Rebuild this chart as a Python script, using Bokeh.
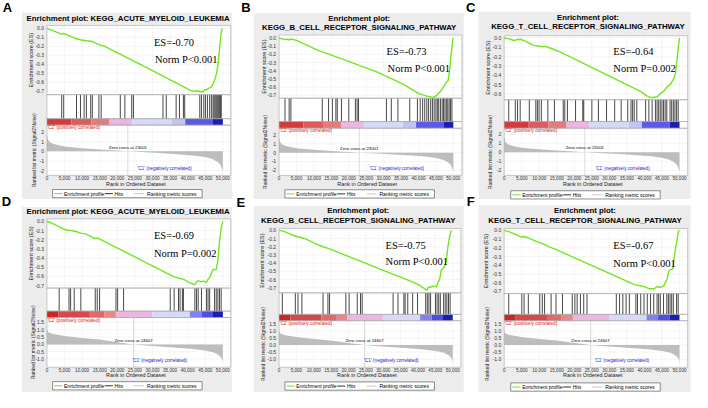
from bokeh.plotting import figure
from bokeh.models import Range1d
from bokeh.core.properties import value
from bokeh.embed import file_html
from bokeh.resources import INLINE

# ------------------------------------------------------------------ data
panel_letters = ["A", "B", "C", "D", "E", "F"]
titles = [
    ["Enrichment plot: KEGG_ACUTE_MYELOID_LEUKEMIA"],
    ["Enrichment plot:", "KEGG_B_CELL_RECEPTOR_SIGNALING_PATHWAY"],
    ["Enrichment plot:", "KEGG_T_CELL_RECEPTOR_SIGNALING_PATHWAY"],
    ["Enrichment plot: KEGG_ACUTE_MYELOID_LEUKEMIA"],
    ["Enrichment plot:", "KEGG_B_CELL_RECEPTOR_SIGNALING_PATHWAY"],
    ["Enrichment plot:", "KEGG_T_CELL_RECEPTOR_SIGNALING_PATHWAY"],
]
es_texts = ["ES=-0.70", "ES=-0.73", "ES=-0.64", "ES=-0.69", "ES=-0.75", "ES=-0.67"]
p_texts = ["Norm P<0.001", "Norm P<0.001", "Norm P=0.002",
           "Norm P=0.002", "Norm P<0.001", "Norm P<0.001"]
zero_cross = [23001, 23001, 23001, 24607, 24607, 24607]

# running enrichment score (rank, ES)
A_es_rank = [0, 2000, 4200, 4700, 5100, 6500, 7900, 9800, 11200, 12600, 14500, 15400, 16400,
             28500, 40650, 41590, 42520, 43460, 44390, 44860, 45330, 45800, 46260, 46730,
             47200, 47670, 48130, 48600, 49070, 49540, 49810]
A_es = [0.0, -0.03, -0.064, -0.057, -0.062, -0.085, -0.11, -0.13, -0.138, -0.143, -0.175, -0.19,
        -0.2, -0.44, -0.689, -0.70, -0.696, -0.707, -0.707, -0.682, -0.689, -0.671, -0.664,
        -0.654, -0.625, -0.575, -0.518, -0.404, -0.225, -0.046, 0.0]
B_es_rank = [0, 1700, 2300, 2900, 3400, 5000, 11050, 19010, 28370, 35870, 40080, 42420, 44290,
             45230, 46160, 47110, 48030, 48510, 48960, 49440, 49920]
B_es = [0.0, -0.02, -0.015, -0.025, -0.012, -0.03, -0.148, -0.27, -0.42, -0.57, -0.68, -0.71,
        -0.725, -0.70, -0.66, -0.60, -0.54, -0.52, -0.38, -0.17, 0.0]
C_es_rank = [0, 1390, 2790, 3720, 4650, 5580, 8360, 10220, 12080, 13480, 15800, 17660, 39030,
             40430, 41820, 42750, 43680, 44610, 45540, 46470, 47400, 48330, 48790, 49260,
             49720, 50000]
C_es = [0.0, -0.01, -0.027, -0.017, -0.014, -0.027, -0.079, -0.089, -0.093, -0.113, -0.147,
        -0.182, -0.576, -0.615, -0.64, -0.635, -0.63, -0.593, -0.569, -0.525, -0.497, -0.439,
        -0.387, -0.25, -0.079, 0.0]
D_es_rank = [0, 1400, 3270, 3740, 5140, 6070, 7010, 8410, 9810, 10750, 12150, 13550, 14490,
             15420, 35980, 37850, 38790, 40650, 42060, 42520, 42990, 43930, 44390, 45330,
             45800, 46260, 47200, 48130, 48600, 49070, 49540, 50000]
D_es = [0.0, -0.018, -0.053, -0.063, -0.088, -0.098, -0.098, -0.112, -0.13, -0.133, -0.158,
        -0.186, -0.182, -0.2, -0.602, -0.623, -0.63, -0.672, -0.69, -0.658, -0.648, -0.658,
        -0.651, -0.665, -0.63, -0.613, -0.525, -0.525, -0.42, -0.21, -0.07, 0.0]
E_es_rank = [0, 1220, 2160, 4970, 6380, 7790, 10600, 12480, 14350, 38740, 40620, 42500, 42960,
             43900, 44370, 45310, 45770, 46240, 46710, 47180, 47650, 48120, 48590, 49060, 49530]
E_es = [0.0, -0.008, -0.027, -0.074, -0.086, -0.106, -0.164, -0.196, -0.223, -0.634, -0.673,
        -0.73, -0.696, -0.688, -0.68, -0.688, -0.634, -0.594, -0.477, -0.469, -0.438, -0.379,
        -0.203, -0.086, 0.0]
F_es_rank = [0, 1860, 3720, 4650, 5580, 6510, 9290, 11150, 13010, 14870, 37180, 39500, 41360,
             42750, 43680, 44610, 45540, 46470, 46930, 47400, 48140, 48330, 48790, 49260,
             49720, 50000]
F_es = [0.0, -0.022, -0.055, -0.074, -0.07, -0.081, -0.129, -0.155, -0.192, -0.221, -0.623,
        -0.641, -0.67, -0.67, -0.645, -0.656, -0.634, -0.56, -0.468, -0.45, -0.442, -0.357,
        -0.228, -0.118, -0.007, 0.0]

# hit positions (rank of gene set members)
A_hits = [4200, 4770, 8410, 9530, 10570, 11210, 12440, 12900, 14770, 15420, 20850, 22150,
          24100, 24580, 32990, 33920, 36720, 37670, 38790, 39160, 43450, 43920, 44580, 45050,
          45610, 46250, 46730, 47200, 47500, 47800, 48100, 48400, 48700, 49000, 49300, 49550]
B_hits = [1700, 2900, 3400, 12400, 14200, 15300, 16300, 16700, 17900, 20000, 21900, 22400,
          22800, 30800, 32200, 34100, 37500, 39700, 40500, 41200, 41800, 42400, 42900, 43500,
          44000, 44500, 45000, 45400, 45800, 46300, 46800, 47200, 47600, 48000, 48400, 48800,
          49200, 49600]
C_hits = [1310, 3180, 3820, 4570, 7170, 9030, 9480, 9950, 10600, 12460, 14330, 16840, 17290,
          18040, 20360, 22420, 22700, 25010, 26880, 29190, 31510, 33370, 35240, 36170, 36630,
          37090, 37830, 40340, 41270, 42200, 43130, 43600, 44060, 44520, 44990, 45450, 45910,
          46380, 47310, 47770, 48240, 48700, 49170, 49630]
D_hits = [3480, 6280, 6730, 7760, 9640, 13740, 14300, 14970, 19630, 20100, 21780, 35040,
          36160, 37400, 37840, 38500, 38790, 42050, 42520, 42990, 43920, 45320, 45790, 46250,
          47650, 48120, 48590, 49050, 49520]
E_hits = [940, 4690, 5440, 6570, 12660, 14070, 14540, 19230, 20170, 22510, 23450, 23920, 32830,
          34240, 35930, 36300, 37050, 38460, 39870, 42210, 42680, 43150, 43620, 45020, 45490,
          45960, 46430, 47370, 47840, 48310, 48780, 49250]
F_hits = [1310, 5030, 5680, 6890, 10150, 10880, 11530, 13390, 14780, 16640, 19430, 20170,
          20820, 21750, 22690, 23620, 31980, 32910, 33840, 34770, 35700, 37560, 38020, 38950,
          39880, 40810, 41740, 42660, 43600, 44060, 44530, 45450, 46380, 46840, 47310, 47770,
          48240, 49170, 49630]

# phenotype colour bar blocks
top_bar_edges = [0, 7000, 12600, 17800, 24300, 35500, 39300, 47200, 50000]
top_bar_colors = ["#d43a3a", "#dc5c5c", "#e27c7c", "#ebb6df", "#d8d8f8", "#c4c4f4",
                  "#5a5ae6", "#1c1cb0"]
bottom_bar_edges = [0, 3300, 12200, 16400, 19600, 29900, 40600, 43900, 47200, 50000]
bottom_bar_colors = ["#c82828", "#d84848", "#df6a6a", "#e68888", "#ebb6df", "#d8d8f8",
                     "#8080ee", "#4e4ee4", "#1c1cb0"]

# ranked list metric (Signal2Noise)
top_metric_rank = [0, 300, 1000, 2500, 5000, 10000, 15000, 20000, 23001, 28000, 33000, 38000,
                   42000, 45000, 47000, 48500, 49300, 49800, 50000]
top_metric = [1.75, 1.2, 0.9, 0.7, 0.5, 0.33, 0.2, 0.08, 0.0, -0.1, -0.2, -0.32, -0.45, -0.6,
              -0.8, -1.1, -1.4, -1.9, -2.1]
bottom_metric_rank = [0, 300, 1500, 5000, 10000, 15000, 20000, 22500, 24607, 27000, 30000,
                      36000, 41000, 45000, 47500, 49000, 49700, 50000]
bottom_metric = [1.05, 0.85, 0.72, 0.58, 0.44, 0.33, 0.15, 0.07, 0.0, -0.05, -0.1, -0.2, -0.3,
                 -0.42, -0.55, -0.75, -0.95, -1.2]

# ticks
rank_ticks = [0, 5000, 10000, 15000, 20000, 25000, 30000, 35000, 40000, 45000, 50000]
rank_tick_labels = ["0", "5,000", "10,000", "15,000", "20,000", "25,000", "30,000", "35,000",
                    "40,000", "45,000", "50,000"]
es_ticks_7 = [0.0, -0.1, -0.2, -0.3, -0.4, -0.5, -0.6, -0.7]
es_tick_labels_7 = ["0.0", "-0.1", "-0.2", "-0.3", "-0.4", "-0.5", "-0.6", "-0.7"]
es_ticks_6 = [0.0, -0.1, -0.2, -0.3, -0.4, -0.5, -0.6]
es_tick_labels_6 = ["0.0", "-0.1", "-0.2", "-0.3", "-0.4", "-0.5", "-0.6"]
metric_ticks_top = [2, 1, 0, -1, -2]
metric_tick_labels_top = ["2", "1", "0", "-1", "-2"]
metric_ticks_bottom = [1.5, 1.0, 0.5, 0.0, -0.5, -1.0]
metric_tick_labels_bottom = ["1.5", "1.0", "0.5", "0.0", "-0.5", "-1.0"]

es_rank_all = [A_es_rank, B_es_rank, C_es_rank, D_es_rank, E_es_rank, F_es_rank]
es_all = [A_es, B_es, C_es, D_es, E_es, F_es]
hits_all = [A_hits, B_hits, C_hits, D_hits, E_hits, F_hits]

# ------------------------------------------------------------------ layout (reference pixels)
W_REF, H_REF = 708, 408
LAYOUT = {
    "A": dict(box=(22, 12.5, 237, 206.5), letter=(7, 7.5), x0=47.5, x50=227.5, right=235.5,
              es_top=26, es_bot=98, es_y0=29, es_yref=94.3, es_vref=-0.7,
              hit_bot=123, cb_bot=129.5, met_top=130, met_bot=182,
              met_hi=(2, 137), met_lo=(-2, 177),
              title_x=130.5, title_y=[18.3], es_txt=(157, 43.5), p_txt=(158, 61.5),
              legend=(53.3, 196.7), ytitle_x=(31.7, 34.3), c1_rank=25700),
    "B": dict(box=(259, 13, 474, 206.5), letter=(251, 7.5), x0=285, x50=463.3, right=472,
              es_top=36, es_bot=101.7, es_y0=39, es_yref=98.7, es_vref=-0.7,
              hit_bot=126, cb_bot=132.7, met_top=133.3, met_bot=182,
              met_hi=(2, 140), met_lo=(-2, 176.7),
              title_x=367, title_y=[18.3, 28.3], es_txt=(395, 53), p_txt=(396, 70.5),
              legend=(291, 197), ytitle_x=(269.3, 271), c1_rank=26000),
    "C": dict(box=(489, 11.7, 706, 206.5), letter=(481, 7.5), x0=515.3, x50=694.7, right=703,
              es_top=36.7, es_bot=103.3, es_y0=39, es_yref=97.3, es_vref=-0.6,
              hit_bot=126, cb_bot=132.7, met_top=133.3, met_bot=182,
              met_hi=(2, 139.3), met_lo=(-2, 176.7),
              title_x=601, title_y=[17.3, 26.7], es_txt=(627, 53.5), p_txt=(627, 71),
              legend=(522, 198), ytitle_x=(498.7, 501.3), c1_rank=26000),
    "D": dict(box=(22, 215, 237, 407.5), letter=(6, 209), x0=47.5, x50=227.5, right=235.5,
              es_top=227.3, es_bot=299.3, es_y0=230, es_yref=296.7, es_vref=-0.7,
              hit_bot=323.3, cb_bot=330, met_top=330, met_bot=381.7,
              met_hi=(1.5, 335), met_lo=(-1.0, 373.3),
              title_x=130.5, title_y=[219.3], es_txt=(157, 245), p_txt=(157, 263),
              legend=(53.3, 396.7), ytitle_x=(31.7, 33.3), c1_rank=24300),
    "E": dict(box=(259, 214, 474, 407.5), letter=(246, 210), x0=285, x50=462.7, right=471,
              es_top=237.3, es_bot=304.3, es_y0=239.3, es_yref=299, es_vref=-0.7,
              hit_bot=326.7, cb_bot=333.3, met_top=333.3, met_bot=381.7,
              met_hi=(1.5, 336.7), met_lo=(-1.0, 373.3),
              title_x=366, title_y=[218.3, 229.3], es_txt=(394, 254.5), p_txt=(394, 272),
              legend=(291, 397), ytitle_x=(267.7, 268.3), c1_rank=24500),
    "F": dict(box=(489, 213, 706, 407.5), letter=(481, 209), x0=515.3, x50=694.7, right=703,
              es_top=237.3, es_bot=305, es_y0=239.3, es_yref=302.7, es_vref=-0.7,
              hit_bot=326.7, cb_bot=333.3, met_top=333.3, met_bot=381.7,
              met_hi=(1.5, 336.7), met_lo=(-1.0, 373.3),
              title_x=598, title_y=[219, 229.3], es_txt=(627, 255.5), p_txt=(627, 274),
              legend=(522, 398), ytitle_x=(497, 498), c1_rank=25800),
}

SANS = value("Liberation Sans")
SERIF = value("Liberation Serif")
GREEN = "#72e61e"
BOXGRAY = "#ececec"
EDGE = "#a8a8a8"
GRIDC = "#efefef"

p = figure(width=692, height=392, x_range=Range1d(0, W_REF), y_range=Range1d(H_REF, 0),
           x_axis_type=None, y_axis_type=None, toolbar_location=None,
           output_backend="svg", min_border=0, outline_line_color=None,
           background_fill_color="white", border_fill_color="white")

xr, yr = {}, {}


def txt(x, y, s, size, align="center", baseline="middle", color="#000000", bold=False,
        font=SANS, angle=0.0, **kw):
    p.text(x=x, y=y, text=s, text_font=font, text_font_size=size, text_align=align,
           text_baseline=baseline, text_color=color,
           text_font_style="bold" if bold else "normal", angle=angle, **kw)


for i, key in enumerate(panel_letters):
    g = LAYOUT[key]
    top_row = i < 3
    x0, x50, right = g["x0"], g["x50"], g["right"]
    R = 50000.0 / (x50 - x0)
    rn, en, mn = "rank" + key, "es" + key, "met" + key
    xr[rn] = Range1d(-x0 * R, (W_REF - x0) * R)
    K = -g["es_vref"] / (g["es_yref"] - g["es_y0"])
    yr[en] = Range1d((g["es_y0"] - H_REF) * K, g["es_y0"] * K)
    (mh, ph), (ml, pl) = g["met_hi"], g["met_lo"]
    Km = (mh - ml) / (pl - ph)
    yr[mn] = Range1d(mh + (ph - H_REF) * Km, mh + ph * Km)

    es_top, es_bot, hit_bot = g["es_top"], g["es_bot"], g["hit_bot"]
    cb_bot, met_top, met_bot = g["cb_bot"], g["met_top"], g["met_bot"]

    # gray panel background and letter
    bx0, by0, bx1, by1 = g["box"]
    p.quad(left=[bx0], right=[bx1], top=[by0], bottom=[by1], fill_color=BOXGRAY, line_color=None)
    txt([g["letter"][0]], [g["letter"][1]], [key], "13px", bold=True)
    for line, ty in zip(titles[i], g["title_y"]):
        txt([g["title_x"]], [ty], [line], "7.8px", bold=True)

    # white plotting areas
    p.quad(left=[x0], right=[right], top=[es_top], bottom=[met_bot], fill_color="white",
           line_color=None)

    es_ticks = es_ticks_7 if g["es_vref"] == -0.7 else es_ticks_6
    es_labels = es_tick_labels_7 if g["es_vref"] == -0.7 else es_tick_labels_6
    m_ticks = metric_ticks_top if top_row else metric_ticks_bottom
    m_labels = metric_tick_labels_top if top_row else metric_tick_labels_bottom

    # grid lines
    n = len(es_ticks)
    p.segment(x0=[x0] * n, x1=[right] * n, y0=es_ticks, y1=es_ticks, y_range_name=en,
              line_color=GRIDC, line_width=0.6)
    nr = len(rank_ticks)
    p.segment(x0=rank_ticks, x1=rank_ticks, y0=[es_top] * nr, y1=[es_bot] * nr,
              x_range_name=rn, line_color=GRIDC, line_width=0.6)
    nm = len(m_ticks)
    p.segment(x0=[x0] * nm, x1=[right] * nm, y0=m_ticks, y1=m_ticks, y_range_name=mn,
              line_color=GRIDC, line_width=0.6)
    p.segment(x0=rank_ticks, x1=rank_ticks, y0=[met_top] * nr, y1=[met_bot] * nr,
              x_range_name=rn, line_color=GRIDC, line_width=0.6)

    # ranked list metric
    mrank = top_metric_rank if top_row else bottom_metric_rank
    mval = top_metric if top_row else bottom_metric
    p.varea(x=mrank, y1=[0] * len(mrank), y2=mval, x_range_name=rn, y_range_name=mn,
            fill_color="#bdbdbd")
    zc = zero_cross[i]
    p.segment(x0=[zc], x1=[zc], y0=[met_top], y1=[met_bot], x_range_name=rn,
              line_color="#8c8c8c", line_width=0.6, line_dash="1 1")
    zero_px = ph + mh / Km
    txt([zc], [zero_px - 4.5], ["Zero cross at %d" % zc], "4.3px", x_range_name=rn)

    # colour bar
    edges = top_bar_edges if top_row else bottom_bar_edges
    cols = top_bar_colors if top_row else bottom_bar_colors
    p.quad(left=edges[:-1], right=edges[1:], top=[hit_bot] * len(cols),
           bottom=[cb_bot] * len(cols), fill_color=cols, line_color=None, x_range_name=rn)

    # hits
    h = hits_all[i]
    p.segment(x0=h, x1=h, y0=[es_bot] * len(h), y1=[hit_bot] * len(h), x_range_name=rn,
              line_color="#000000", line_alpha=0.72, line_width=1)

    # running enrichment score
    p.line(x=es_rank_all[i], y=es_all[i], x_range_name=rn, y_range_name=en,
           line_color=GREEN, line_width=1.4)

    # sub-area outlines
    for t, b in ((es_top, es_bot), (es_bot, hit_bot), (hit_bot, cb_bot), (met_top, met_bot)):
        p.quad(left=[x0], right=[right], top=[t], bottom=[b], fill_color=None,
               line_color=EDGE, line_width=0.6)

    # phenotype labels
    txt([x0 + 0.5], [cb_bot + 2.6], ["'C2' (positively correlated)"], "4.6px", align="left",
        color="#e02020")
    txt([g["c1_rank"]], [met_bot - 7.5], ["'C1' (negatively correlated)"], "4.6px",
        align="left", color="#2020e0", x_range_name=rn)

    # tick labels
    txt([x0 - 3] * n, es_ticks, es_labels, "5px", align="right", y_range_name=en,
        color="#333333")
    txt([x0 - 3] * nm, m_ticks, m_labels, "5px", align="right", y_range_name=mn,
        color="#333333")
    txt(rank_ticks, [met_bot + 3] * nr, rank_tick_labels, "4.6px", x_range_name=rn,
        color="#333333")
    txt([(x0 + x50) / 2.0 + 1], [met_bot + 8.6], ["Rank in Ordered Dataset"], "5.4px",
        color="#222222")
    txt([g["ytitle_x"][0]], [(es_top + es_bot) / 2.0], ["Enrichment score (ES)"], "5.4px",
        angle=1.5708, color="#222222")
    txt([g["ytitle_x"][1]], [(met_top + met_bot) / 2.0],
        ["Ranked list metric (Signal2Noise)"], "5.0px", angle=1.5708, color="#222222")

    # ES / P annotation
    txt([g["es_txt"][0]], [g["es_txt"][1]], [es_texts[i]], "10.5px", align="left", font=SERIF)
    txt([g["p_txt"][0]], [g["p_txt"][1]], [p_texts[i]], "10.5px", align="left", font=SERIF)

    # legend
    lx, ly = g["legend"]
    p.quad(left=[lx], right=[lx + 153], top=[ly], bottom=[ly + 8.6], fill_color="white",
           line_color="#444444", line_width=0.6)
    cy = ly + 4.3
    p.segment(x0=[lx + 1.7, lx + 53.4, lx + 83.4], x1=[lx + 10, lx + 61.7, lx + 93.4],
              y0=[cy] * 3, y1=[cy] * 3, line_color=[GREEN, "#333333", "#c8c8c8"],
              line_width=1)
    txt([lx + 11.7, lx + 63.4, lx + 96.7], [cy] * 3,
        ["Enrichment profile", "Hits", "Ranking metric scores"], "5px", align="left")

p.extra_x_ranges = xr
p.extra_y_ranges = yr

open("out.html", "w").write(file_html(p, INLINE))
